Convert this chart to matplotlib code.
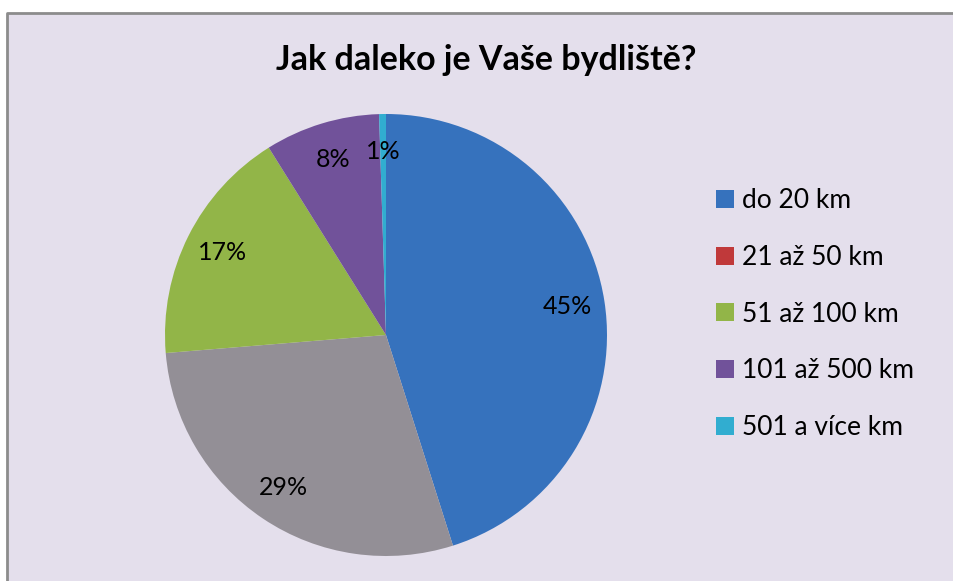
import matplotlib
matplotlib.use("Agg")
from matplotlib import pyplot as plt
from matplotlib.patches import Rectangle, Patch
from matplotlib.lines import Line2D

plt.rcParams["font.family"] = ["Lato", "DejaVu Sans"]

title = "Jak daleko je Vaše bydliště?"
categories = ["do 20 km", "21 až 50 km", "51 až 100 km", "101 až 500 km", "501 a více km"]
shares = [45.1, 28.6, 17.4, 8.4, 0.5]
pct_labels = ["45%", "29%", "17%", "8%", "1%"]

slice_colors = ["#3672BD", "#938F96", "#92B548", "#71529A", "#31ADD0"]
legend_colors = ["#3672BD", "#C0393A", "#92B548", "#71529A", "#31ADD0"]
bg = "#E4DFEC"

W, H = 954, 581
fig = plt.figure(figsize=(W / 100, H / 100), dpi=100, facecolor="white")

# chart area, grey frame only on top and left edges
x0, y0 = 7 / W, (H - 13) / H
fig.patches.append(Rectangle((x0, 0), 1 - x0, y0, transform=fig.transFigure,
                             facecolor=bg, edgecolor="none", zorder=-5))
fig.lines.append(Line2D([x0, x0, 1], [0, y0, y0], transform=fig.transFigure,
                        color="#8C8C8C", linewidth=2.0, zorder=-4))

cx, cy, r = 386, 335, 221
ax = fig.add_axes([(cx - r) / W, (H - cy - r) / H, 2 * r / W, 2 * r / H])
ax.set_zorder(2)
ax.patch.set_alpha(0)

it = iter(pct_labels)
wedges, texts, autotexts = ax.pie(shares, colors=slice_colors, startangle=90, counterclock=False,
                                  radius=1, autopct=lambda p: next(it), pctdistance=0.83,
                                  wedgeprops=dict(linewidth=0),
                                  textprops=dict(fontsize=18, color="black"))
ax.set_xlim(-1, 1)
ax.set_ylim(-1, 1)
ax.set_aspect("equal")
ax.axis("off")

fig.text(486 / W, 1 - 60 / H, title, ha="center", va="center", fontsize=24.5, fontweight="bold")

handles = [Patch(facecolor=c, edgecolor="none") for c in legend_colors]
fig.legend(handles, categories, loc="center left", bbox_to_anchor=(692 / W, 1 - 314 / H),
           frameon=False, fontsize=19, handlelength=0.68, handleheight=0.68,
           handletextpad=0.3, labelspacing=1.2)

fig.savefig("out.png", dpi=100, facecolor=fig.get_facecolor())
